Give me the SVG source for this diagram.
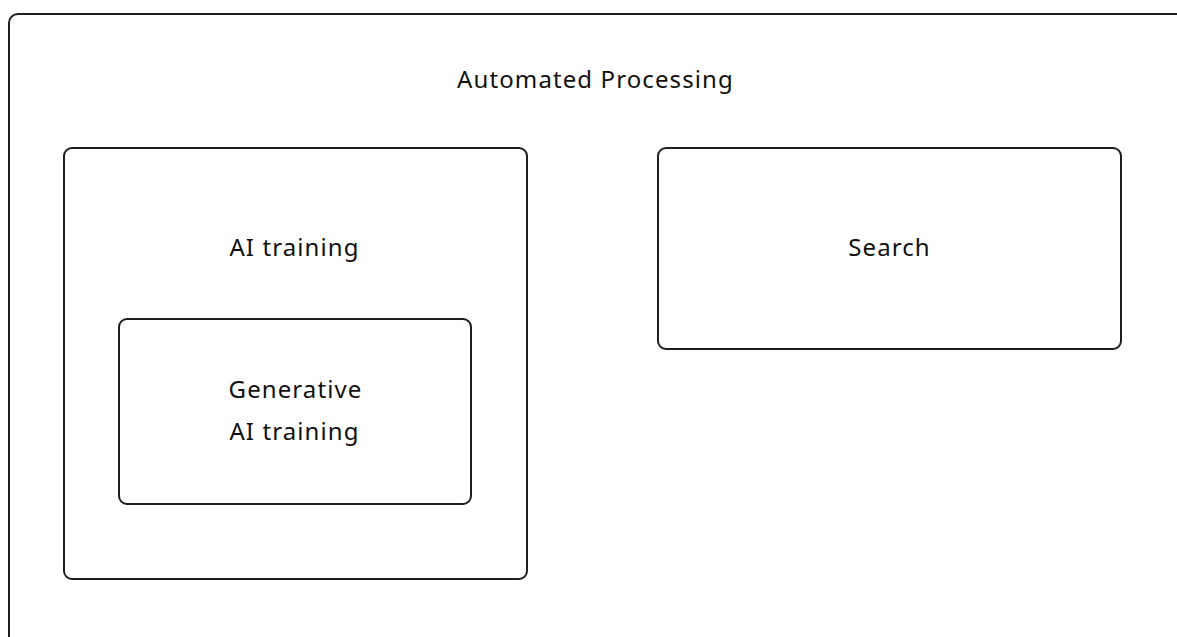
<svg xmlns="http://www.w3.org/2000/svg" width="1177" height="637" viewBox="0 0 1177 637">
<style>
.box{fill:#fff;stroke:#1e1e1e;stroke-width:2}
.lbl{font-family:"Noto Sans","Liberation Sans",sans-serif;font-size:24px;letter-spacing:1.1px;fill:#111;text-anchor:middle}
</style>
<rect width="1177" height="637" fill="#fff"/>
<g id="automated-processing">
<rect class="box" x="9" y="14" width="1176" height="640" rx="9"/>
<text class="lbl" x="595.5" y="88">Automated Processing</text>
</g>
<g id="ai-training">
<rect class="box" x="64" y="148" width="463" height="431" rx="8"/>
<text class="lbl" x="294.5" y="256">AI training</text>
</g>
<g id="generative-ai-training">
<rect class="box" x="119" y="319" width="352" height="185" rx="8"/>
<text class="lbl" x="295.5" y="398">Generative</text>
<text class="lbl" x="294.5" y="440">AI training</text>
</g>
<g id="search">
<rect class="box" x="658" y="148" width="463" height="201" rx="8"/>
<text class="lbl" x="889.5" y="256">Search</text>
</g>
<g id="connectors"/>
</svg>
